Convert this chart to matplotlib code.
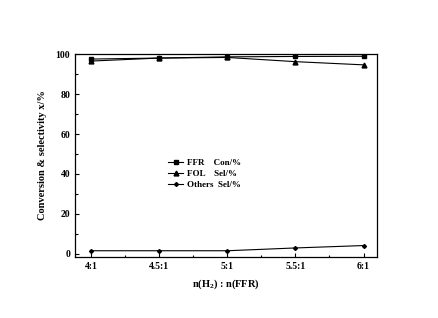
import matplotlib
matplotlib.use("Agg")
import matplotlib.pyplot as plt
from matplotlib.ticker import AutoMinorLocator

ratios = [4.0, 4.5, 5.0, 5.5, 6.0]
ratio_labels = ["4:1", "4.5:1", "5:1", "5.5:1", "6:1"]
ffr_con = [97.5, 98.0, 98.6, 98.8, 98.9]
fol_sel = [96.5, 98.0, 98.3, 96.2, 94.6]
others_sel = [1.6, 1.6, 1.6, 3.0, 4.2]

plt.rcParams["font.family"] = ["Liberation Serif", "DejaVu Serif"]
plt.rcParams["font.weight"] = "bold"
plt.rcParams["axes.labelweight"] = "bold"
plt.rcParams["mathtext.fontset"] = "custom"
plt.rcParams["mathtext.rm"] = "Liberation Serif:bold"

fig = plt.figure(figsize=(4.38, 3.18), dpi=100)
ax = fig.add_axes([0.171, 0.192, 0.690, 0.638])

ax.plot(ratios, ffr_con, "k-", marker="s", ms=2.5, lw=0.8, label="FFR    Con/%")
ax.plot(ratios, fol_sel, "k-", marker="^", ms=3.5, lw=0.8, label="FOL    Sel/%")
ax.plot(ratios, others_sel, "k-", marker="D", ms=2, lw=0.8, label="Others  Sel/%")

ax.set_xlim(3.88, 6.1)
ax.set_ylim(-1.5, 100)
ax.set_xticks(ratios)
ax.set_xticklabels(ratio_labels, fontweight="bold")
ax.set_yticks([0, 20, 40, 60, 80, 100])
ax.set_yticklabels(["0", "20", "40", "60", "80", "100"], fontweight="bold")
ax.xaxis.set_minor_locator(AutoMinorLocator(2))
ax.yaxis.set_minor_locator(AutoMinorLocator(2))
ax.tick_params(which="both", direction="in", labelsize=7, width=0.8)
ax.tick_params(which="major", length=3)
ax.tick_params(which="minor", length=1.8)
for s in ax.spines.values():
    s.set_linewidth(0.9)

ax.set_xlabel(r"n(H$_2$) : n(FFR)", fontsize=7.5, fontweight="bold", labelpad=5)
ax.set_ylabel("Conversion & selectivity x/%", fontsize=7.5, fontweight="bold", labelpad=6)

ax.legend(loc="center", bbox_to_anchor=(0.43, 0.41), frameon=False,
          prop={"size": 6.5, "weight": "bold"},
          handlelength=1.6, handletextpad=0.5, labelspacing=0.3)

fig.savefig("out.png", dpi=100)
